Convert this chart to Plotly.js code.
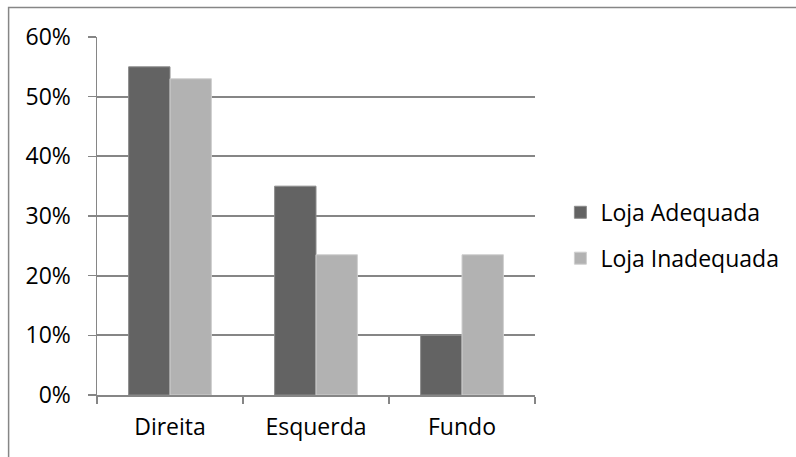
<!DOCTYPE html>
<html>
<head>
<meta charset="utf-8">
<script src="https://cdn.plot.ly/plotly-3.0.1.min.js"></script>
<style>
  html, body { margin: 0; padding: 0; background: #fff; }
  #chart { width: 796px; height: 457px; }
</style>
</head>
<body>
<div id="chart"></div>
<script>
const categories = ["Direita", "Esquerda", "Fundo"];
const lojaAdequada = [55, 35, 10];
const lojaInadequada = [53, 23.5, 23.5];
const seriesNames = ["Loja Adequada", "Loja Inadequada"];
const yTickValues = [0, 10, 20, 30, 40, 50, 60];
const yTickLabels = ["0%", "10%", "20%", "30%", "40%", "50%", "60%"];

const FONT = "Open Sans, Noto Sans, sans-serif";
const FS = 23;
const GRID = "#868686";

const traces = [
  {
    type: "bar", name: seriesNames[0], x: categories, y: lojaAdequada,
    legendgroup: "a",
    marker: { color: "#636363", line: { color: "#8c8c8c", width: 1 } },
    hoverinfo: "none"
  },
  {
    type: "bar", name: seriesNames[1], x: categories, y: lojaInadequada,
    legendgroup: "b",
    marker: { color: "#b2b2b2", line: { color: "#cfcfcf", width: 1 } },
    hoverinfo: "none"
  }
];

const L = 97, R = 258, T = 37, B = 62;
const pw = 796 - L - R, ph = 457 - T - B;

const layout = {
  width: 796, height: 457,
  margin: { l: L, r: R, t: T, b: B, pad: 0 },
  paper_bgcolor: "#ffffff", plot_bgcolor: "#ffffff",
  font: { family: FONT, size: FS, color: "#000000" },
  barmode: "group", bargap: 0.433, bargroupgap: 0,
  showlegend: true,
  legend: {
    x: 1.058, xanchor: "left", y: 0.446, yanchor: "middle",
    traceorder: "grouped", tracegroupgap: 13,
    itemwidth: 30,
    font: { family: FONT, size: FS, color: "#000000" },
    bgcolor: "rgba(0,0,0,0)"
  },
  xaxis: {
    type: "category",
    showline: true, linecolor: GRID, linewidth: 2,
    ticks: "outside", tickson: "boundaries", ticklen: 7, tickcolor: GRID, tickwidth: 1.5,
    showgrid: false, zeroline: false,
    tickfont: { family: FONT, size: FS, color: "#000000" },
    ticklabelstandoff: 10
  },
  yaxis: {
    range: [0, 60], tickmode: "array", tickvals: yTickValues, ticktext: yTickLabels,
    showline: true, linecolor: GRID, linewidth: 1.5,
    ticks: "outside", ticklen: 8, tickcolor: GRID, tickwidth: 1.5,
    showgrid: true, gridcolor: GRID, gridwidth: 2,
    zeroline: false,
    tickfont: { family: FONT, size: FS, color: "#000000" },
    ticklabelstandoff: 12
  },
  shapes: [
    {
      type: "rect", xref: "paper", yref: "paper",
      x0: (8 - L) / pw, x1: (805 - L) / pw,
      y0: (457 - B - 470) / ph, y1: (457 - B - 7.5) / ph,
      line: { color: GRID, width: 1.5 }, fillcolor: "rgba(0,0,0,0)",
      layer: "below"
    }
  ]
};

Plotly.newPlot("chart", traces, layout, { staticPlot: true, displayModeBar: false });
</script>
</body>
</html>
